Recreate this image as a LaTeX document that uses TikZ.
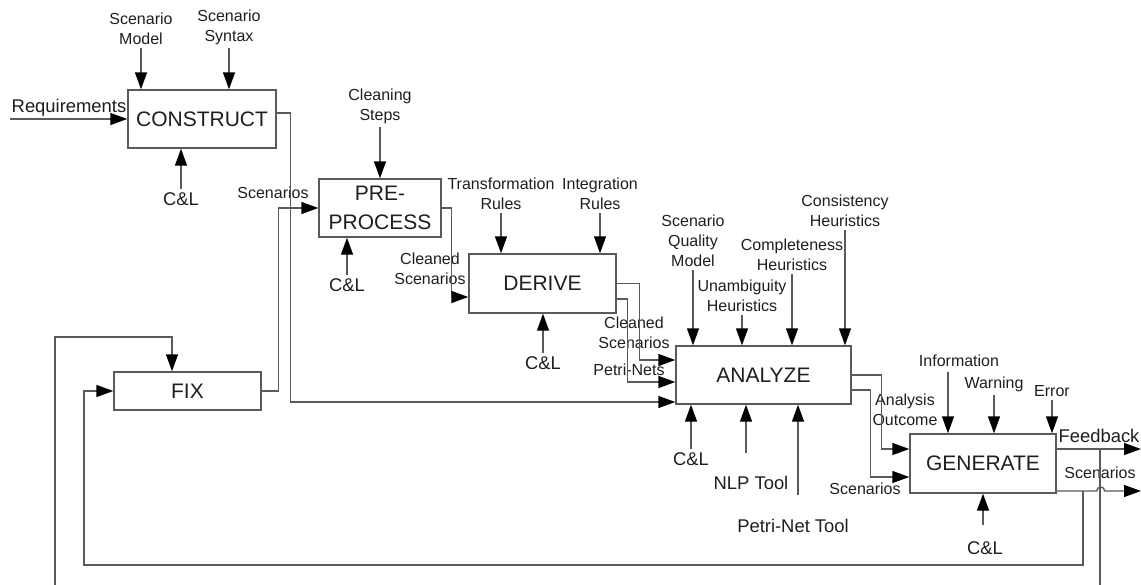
\documentclass[tikz,border=0pt]{standalone}
\usepackage{fontspec}
\setmainfont{Liberation Sans}
\usepackage{xcolor}
\usepackage{tikz}
\usetikzlibrary{arrows.meta, positioning, calc}

\definecolor{linegray}{HTML}{5A5A5A}
\definecolor{textgray}{HTML}{1E1E1E}

\tikzset{
  box/.style={draw=linegray, line width=1.4pt, font=\fontsize{21}{29}\selectfont, text=textgray, align=center, inner sep=0pt},
  lbl/.style={font=\fontsize{16}{20}\selectfont, text=textgray, align=center, inner xsep=1pt, inner ysep=3pt},
  lblbig/.style={font=\fontsize{18.4}{22}\selectfont, text=textgray, align=center, inner xsep=1pt, inner ysep=3pt},
  flow/.style={draw=linegray, line width=1.4pt, -{Triangle[length=17pt, width=12pt, color=black]}},
}

\begin{document}
\begin{tikzpicture}[x=1pt, y=-1pt]
    \useasboundingbox (0,0) rectangle (1141,584);
    \clip (0,0) rectangle (1141,584);

    % Activity boxes
    \node[box, minimum width=148, minimum height=58] (construct) at (202,119) {CONSTRUCT};
    \node[box, minimum width=122, minimum height=58] (preprocess) at (380,208) {PRE-\\PROCESS};
    \node[box, minimum width=147, minimum height=59] (derive) at (542.5,283.5) {DERIVE};
    \node[box, minimum width=175, minimum height=58] (analyze) at (763.5,375) {ANALYZE};
    \node[box, minimum width=147, minimum height=38] (fix) at (187.5,391) {FIX};
    \node[box, minimum width=146, minimum height=59] (generate) at (983,463.5) {GENERATE};

    % CONSTRUCT: input, controls, mechanism
    \node[lblbig] (requirements) at (69,108) {Requirements};
    \coordinate (reqin) at (10,119);
    \draw[flow] (reqin) -- (construct.west);
    \node[lbl, anchor=south] (scnmodel) at (141,48) {Scenario\\Model};
    \node[lbl, anchor=south] (scnsyntax) at (229,48) {Scenario\\Syntax};
    \draw[flow] (scnmodel.south) -- (scnmodel.south |- construct.north);
    \draw[flow] (scnsyntax.south) -- (scnsyntax.south |- construct.north);
    \node[lblbig, anchor=north] (cl1) at (181,189) {C\&L};
    \draw[flow] (cl1.north) -- (cl1.north |- construct.south);

    % PRE-PROCESS
    \node[lbl, anchor=south] (cleansteps) at (380,127) {Cleaning\\Steps};
    \draw[flow] (cleansteps.south) -- (cleansteps.south |- preprocess.north);
    \node[lblbig, anchor=north] (cl2) at (347,275) {C\&L};
    \draw[flow] (cl2.north) -- (cl2.north |- preprocess.south);
    \node[lbl] (scnfix) at (273,193) {Scenarios};
    \draw[flow] (fix.east) -- ++(17,0) |- (preprocess.west);

    % DERIVE
    \node[lbl, anchor=south] (transrules) at (501,213) {Transformation\\Rules};
    \node[lbl, anchor=south] (intrules) at (600,213) {Integration\\Rules};
    \draw[flow] (transrules.south) -- (transrules.south |- derive.north);
    \draw[flow] (intrules.south) -- (intrules.south |- derive.north);
    \node[lblbig, anchor=north] (cl3) at (543,353) {C\&L};
    \draw[flow] (cl3.north) -- (cl3.north |- derive.south);
    \node[lbl] (cleanscn1) at (430,269) {Cleaned\\Scenarios};
    \draw[flow] (preprocess.east) -- ++(10,0) |- ([yshift=-13.5]derive.west);

    % ANALYZE
    \node[lbl, anchor=south] (sqmodel) at (693,270) {Scenario\\Quality\\Model};
    \node[lbl, anchor=south] (unamb) at (742,315) {Unambiguity\\Heuristics};
    \node[lbl, anchor=south] (complete) at (792,274) {Completeness\\Heuristics};
    \node[lbl, anchor=south] (consist) at (845,230) {Consistency\\Heuristics};
    \draw[flow] (sqmodel.south) -- (sqmodel.south |- analyze.north);
    \draw[flow] (unamb.south) -- (unamb.south |- analyze.north);
    \draw[flow] (complete.south) -- (complete.south |- analyze.north);
    \draw[flow] (consist.south) -- (consist.south |- analyze.north);
    \node[lblbig, anchor=north] (cl4) at (691,449) {C\&L};
    \draw[flow] (cl4.north) -- (cl4.north |- analyze.south);
    \node[lblbig, anchor=north] (nlptool) at (751,473) {NLP Tool};
    \coordinate (nlpin) at ([xshift=-5,yshift=20]nlptool.north);
    \draw[flow] (nlpin) -- (nlpin |- analyze.south);
    \node[lblbig, anchor=north] (pntool) at (793,516) {Petri-Net Tool};
    \coordinate (pnin) at ([xshift=5,yshift=21]pntool.north);
    \draw[flow] (pnin) -- (pnin |- analyze.south);
    \node[lbl] (cleanscn2) at (634,333) {Cleaned\\Scenarios};
    \node[lbl] (petrinets) at (629,370) {Petri-Nets};
    \draw[flow] (derive.east) -- ++(23,0) |- ([yshift=15]analyze.west);
    \draw[flow] ([yshift=-15.5]derive.east) -- ++(11,0) |- ([yshift=-7]analyze.west);
    \draw[flow] ([yshift=6]construct.east) -- ++(14,0) |- ([yshift=-27]analyze.west);

    % GENERATE
    \node[lbl, anchor=south] (information) at (959,370) {Information};
    \coordinate (infoin) at ([xshift=-11,yshift=-2]information.south);
    \draw[flow] (infoin) -- (infoin |- generate.north);
    \node[lbl, anchor=south] (warning) at (994,395) {Warning};
    \draw[flow] (warning.south) -- (warning.south |- generate.north);
    \node[lbl, anchor=south] (error) at (1052,400) {Error};
    \draw[flow] (error.south) -- (error.south |- generate.north);
    \node[lblbig, anchor=north] (cl5) at (985,538) {C\&L};
    \coordinate (cl5in) at ([xshift=-2,yshift=13]cl5.north);
    \draw[flow] (cl5in) -- (cl5in |- generate.south);
    \node[lbl] (outcome) at (905,410) {Analysis\\Outcome};
    \node[lbl] (scnanalyze) at (865,489) {Scenarios};
    \draw[flow] (analyze.east) -- ++(30,0) |- ([yshift=14.5]generate.west);
    \draw[flow] ([yshift=-15]analyze.east) -- ++(19,0) |- ([yshift=-13.5]generate.west);

    % Outputs and feedback loops
    \node[lblbig] (feedback) at (1099,436) {Feedback};
    \node[lbl] (scnout) at (1100,473) {Scenarios};
    \coordinate (fbend) at (1141,449);
    \coordinate (scnend) at (1141,491);
    \coordinate (fbtap) at (1100,449);
    \coordinate (scntap) at (1083,491);
    \draw[flow] ([yshift=14.5]generate.east) -- (fbend);
    \draw[flow] ([yshift=-27.5]generate.east) -- ++(40,0) arc (180:360:4) -- (scnend);
    \draw[flow] (fbtap) -- ++(0,150) -| (55,337) -| ([xshift=-15.5]fix.north);
    \draw[flow] (scntap) |- (84,565) |- (fix.west);
\end{tikzpicture}
\end{document}
